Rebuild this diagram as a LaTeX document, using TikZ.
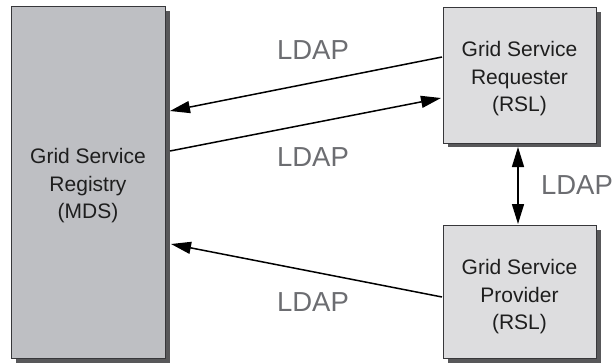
\documentclass[tikz,border=0pt]{standalone}
\usepackage{fontspec}
\setmainfont{Liberation Sans}
\usetikzlibrary{arrows.meta,calc}
\definecolor{regfill}{RGB}{190,191,195}
\definecolor{boxfill}{RGB}{221,221,223}
\definecolor{shadowc}{RGB}{88,88,90}
\definecolor{edgec}{RGB}{55,55,58}
\definecolor{labelc}{RGB}{108,109,113}
\definecolor{textc}{RGB}{30,30,30}
\tikzset{
  boxstyle/.style={draw=edgec, line width=0.9pt},
  shadowstyle/.style={fill=shadowc, draw=none},
  boxtext/.style={text=textc, align=center, font=\fontsize{21}{27.5}\selectfont},
  ldap/.style={text=labelc, font=\fontsize{27.5}{32}\selectfont},
  arr/.style={line width=1.5pt, draw=black, -{Triangle[length=20pt,width=12pt]}},
  dblarr/.style={line width=1.5pt, draw=black, {Triangle[length=20pt,width=12pt]}-{Triangle[length=20pt,width=12pt]}}
}
\begin{document}
\begin{tikzpicture}[x=1pt,y=-1pt]
\useasboundingbox (0,0) rectangle (613,364);
% shadows
\fill[shadowstyle] (16,11) rectangle (170,363);
\fill[shadowstyle] (448,12) rectangle (601,147);
\fill[shadowstyle] (448,230) rectangle (601,363);
% boxes
\filldraw[boxstyle, fill=regfill] (11,6) rectangle (165,358);
\filldraw[boxstyle, fill=boxfill] (443,7) rectangle (596,143);
\filldraw[boxstyle, fill=boxfill] (443,225) rectangle (596,358);
% named nodes
\node[boxtext] (reg) at (88,186) {Grid Service\\Registry\\(MDS)};
\node[boxtext] (req) at (519.5,79) {Grid Service\\Requester\\(RSL)};
\node[boxtext] (prov) at (519.5,297) {Grid Service\\Provider\\(RSL)};
% anchor coordinates
\coordinate (reqA) at (442,57);
\coordinate (regA) at (170,111);
\coordinate (regB) at (170,151);
\coordinate (reqB) at (441,98);
\coordinate (provA) at (442,297);
\coordinate (regC) at (171,244);
\coordinate (reqC) at (518,147);
\coordinate (provC) at (518,224);
% connectors
\draw[arr] (reqA) -- (regA);
\draw[arr] (regB) -- (reqB);
\draw[arr] (provA) -- (regC);
\draw[dblarr] (reqC) -- (provC);
% labels
\node[ldap] (l1) at (313,50) {LDAP};
\node[ldap] (l2) at (313,157) {LDAP};
\node[ldap] (l3) at (577,185) {LDAP};
\node[ldap] (l4) at (313,302) {LDAP};
\end{tikzpicture}
\end{document}
